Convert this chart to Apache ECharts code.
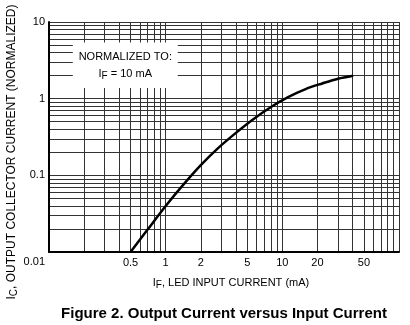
<!DOCTYPE html>
<html><head><meta charset="utf-8">
<script src="https://cdn.jsdelivr.net/npm/echarts@6/dist/echarts.min.js"></script>
<style>html,body{margin:0;padding:0;background:#fff}#c{width:410px;height:325px}</style>
</head><body><div id="c"></div>
<script>
// Curve: LED input current IF (mA) vs normalized output collector current
const ifCurrent = [0.5, 0.7, 1, 1.4, 2, 2.8, 4, 5.6, 8, 11.2, 16, 22, 30, 40.5];
const icNormalized = [0.01, 0.0196, 0.0398, 0.074, 0.136, 0.225, 0.358, 0.536, 0.78, 1.047, 1.345, 1.58, 1.82, 1.99];
const xLabelValues = [0.5, 1, 2, 5, 10, 20, 50];
const yLabelValues = [0.01, 0.1, 1, 10];
const xGridValues = [];
[0.1, 1, 10].forEach(d => { for (let k = 1; k <= 9; k++) xGridValues.push(+(d * k).toPrecision(3)); });
xGridValues.push(100);
const yGridValues = [];
[0.01, 0.1, 1].forEach(d => { for (let k = 1; k <= 9; k++) yGridValues.push(+(d * k).toPrecision(3)); });
yGridValues.push(10);
// annotation box extents (data space)
const noteBox = [[0.16, 5.4], [1.27, 1.38]];

const font = 'Liberation Sans, Arial, sans-serif';
const chart = echarts.init(document.getElementById('c'), null, {renderer: 'canvas'});
chart.setOption({
  animation: false,
  backgroundColor: '#fff',
  title: {
    text: 'Figure 2. Output Current versus Input Current',
    left: 219, textAlign: 'center', top: 301,
    textStyle: {fontFamily: font, fontSize: 15, fontWeight: 'bold', color: '#000'}
  },
  grid: {left: 49, right: 11, top: 22, bottom: 73, outerBoundsMode: 'none', containLabel: false},
  xAxis: {
    type: 'log', logBase: 10, min: 0.1, max: 100,
    name: '{i|I}{s|F}{i|, LED INPUT CURRENT (mA)}',
    nameLocation: 'middle', nameGap: 23, nameMoveOverlap: false,
    nameTextStyle: {padding: [0, 0, 0, 14], rich: {
      i: {fontFamily: font, fontSize: 11, color: '#000'},
      s: {fontFamily: font, fontSize: 10, color: '#000', padding: [5, 0, 0, 0]}
    }},
    axisLine: {show: true, onZero: false, lineStyle: {color: '#000', width: 2}},
    axisTick: {show: false, customValues: xGridValues},
    axisLabel: {customValues: xLabelValues, margin: 5, fontFamily: font, fontSize: 11, color: '#000',
      formatter: v => String(v)},
    splitLine: {show: true, lineStyle: {color: '#333', width: 1}},
    minorTick: {show: false}, minorSplitLine: {show: false}
  },
  yAxis: {
    type: 'log', logBase: 10, min: 0.01, max: 10,
    name: '{i|I}{s|C}{i|, OUTPUT COLLECTOR CURRENT (NORMALIZED)}',
    nameLocation: 'middle', nameGap: 30, nameRotate: 90, nameMoveOverlap: false,
    nameTextStyle: {padding: [0, 30, 0, 0], rich: {
      i: {fontFamily: font, fontSize: 12, color: '#000'},
      s: {fontFamily: font, fontSize: 10, color: '#000', padding: [5, 0, 0, 0]}
    }},
    axisLine: {show: true, onZero: false, lineStyle: {color: '#000', width: 2}},
    axisTick: {show: false, customValues: yGridValues},
    axisLabel: {customValues: yLabelValues, margin: 4, fontFamily: font, fontSize: 11, color: '#000',
      formatter: v => v === 0.01 ? '{low|0.01}' : String(v),
      rich: {low: {fontFamily: font, fontSize: 11, color: '#000', padding: [19, 0, 0, 0]}}},
    splitLine: {show: true, lineStyle: {color: '#333', width: 1}}
  },
  series: [{
    type: 'line',
    data: ifCurrent.map((x, i) => [x, icNormalized[i]]),
    smooth: 0.3, showSymbol: false, symbol: 'none',
    lineStyle: {color: '#000', width: 2.5},
    markArea: {
      silent: true,
      itemStyle: {color: '#fff', opacity: 1},
      label: {show: true, position: 'inside', fontFamily: font,
        formatter: '{a|NORMALIZED TO:}\n{a|I}{s|F}{a| = 10 mA}',
        rich: {
          a: {fontFamily: font, fontSize: 11, color: '#000', lineHeight: 17},
          s: {fontFamily: font, fontSize: 10, color: '#000', lineHeight: 17, padding: [5, 0, 0, 0]}
        }},
      data: [[{coord: noteBox[0]}, {coord: noteBox[1]}]]
    }
  }]
});
</script></body></html>
